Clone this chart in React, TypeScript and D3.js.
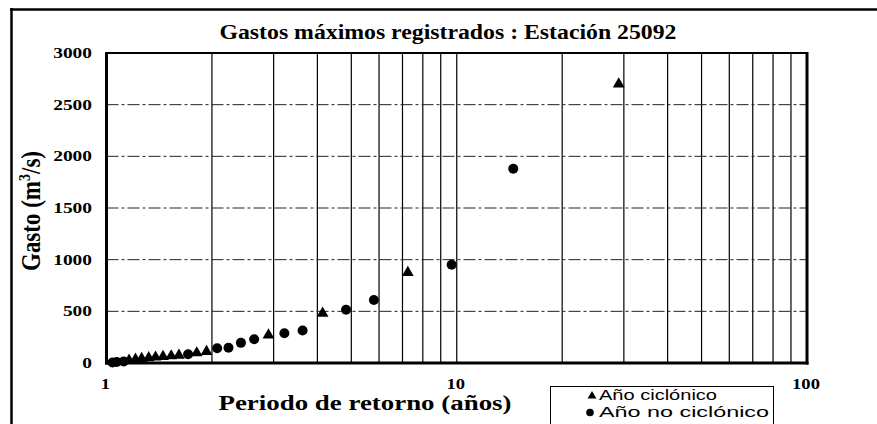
import { useEffect, useRef } from 'react'
import * as d3 from 'd3'

const title = 'Gastos máximos registrados : Estación 25092'
const xTitle = 'Periodo de retorno (años)'
const yTicks = [0, 500, 1000, 1500, 2000, 2500, 3000]
const xTicks = [1, 10, 100]
const legendNames = ['Año ciclónico', 'Año no ciclónico']

// periodo de retorno (años) y gasto (m3/s)
const ciclonicoT = [29, 7.25, 4.14, 2.9, 1.93, 1.81, 1.61, 1.53, 1.45, 1.38, 1.32, 1.26, 1.21, 1.16]
const ciclonicoQ = [2700, 875, 480, 270, 110, 97, 75, 68, 62, 56, 50, 42, 35, 25]
const noCiclonicoT = [14.5, 9.67, 5.8, 4.83, 3.63, 3.22, 2.64, 2.42, 2.23, 2.07, 1.71, 1.12, 1.07, 1.04]
const noCiclonicoQ = [1880, 950, 610, 515, 315, 288, 230, 195, 148, 142, 85, 15, 10, 5]

const W = 877
const H = 424
const SERIF = '"Liberation Serif", "Times New Roman", serif'
const SANS = '"Liberation Sans", Arial, sans-serif'

export default function App() {
  const ref = useRef<SVGSVGElement>(null)

  useEffect(() => {
    const svg = d3.select(ref.current)
    svg.selectAll('*').remove()

    const x = d3.scaleLog().domain([1, 100]).range([106.5, 807])
    const y = d3.scaleLinear().domain([0, 3000]).range([363, 53])

    // scanned text is wider than normal, so stretch it to the measured widths
    const txt = (g: any, t: string, px: number, py: number, size: number, len: number, anchor = 'middle', font = SERIF, weight = 'bold') =>
      g.append('text')
        .attr('x', px).attr('y', py)
        .attr('text-anchor', anchor)
        .attr('font-family', font)
        .attr('font-weight', weight)
        .attr('font-size', size)
        .attr('textLength', len)
        .attr('lengthAdjust', 'spacingAndGlyphs')
        .attr('fill', '#000')
        .text(t)

    svg.append('rect').attr('width', W).attr('height', H).attr('fill', '#fff')

    // outer chart frame (only top and left survive in the scan)
    svg.append('line').attr('x1', 10).attr('x2', W).attr('y1', 9.5).attr('y2', 9.5).attr('stroke', '#000').attr('stroke-width', 2.5)
    svg.append('line').attr('x1', 11.5).attr('x2', 11.5).attr('y1', 8).attr('y2', H).attr('stroke', '#000').attr('stroke-width', 2.5)

    txt(svg, title, 448, 39, 20, 457)

    const grid = svg.append('g')
    grid.selectAll('line.v')
      .data(x.ticks().filter((d) => d > 1 && d < 100))
      .enter().append('line')
      .attr('x1', (d) => x(d)).attr('x2', (d) => x(d))
      .attr('y1', y(3000)).attr('y2', y(0))
      .attr('stroke', '#000').attr('stroke-width', 1.2)
    grid.selectAll('line.h')
      .data(yTicks.filter((d) => d > 0 && d < 3000))
      .enter().append('line')
      .attr('x1', x(1)).attr('x2', x(100))
      .attr('y1', (d) => y(d)).attr('y2', (d) => y(d))
      .attr('stroke', '#222').attr('stroke-width', 1)
      .attr('stroke-dasharray', '12,3,3,3')

    // plot frame
    const f = svg.append('g').attr('stroke', '#000').attr('fill', 'none')
    f.append('line').attr('x1', x(1)).attr('x2', x(100)).attr('y1', y(3000)).attr('y2', y(3000)).attr('stroke-width', 2)
    f.append('line').attr('x1', x(1)).attr('x2', x(1)).attr('y1', y(3000) - 1).attr('y2', y(0) + 1.5).attr('stroke-width', 3)
    f.append('line').attr('x1', x(100)).attr('x2', x(100)).attr('y1', y(3000) - 1).attr('y2', y(0) + 1.5).attr('stroke-width', 3)
    f.append('line').attr('x1', x(1) - 1.5).attr('x2', x(100) + 1.5).attr('y1', y(0)).attr('y2', y(0)).attr('stroke-width', 3)

    yTicks.forEach((d) => txt(svg, String(d), 92, y(d) + 5, 15, String(d).length * 9.7, 'end'))
    xTicks.forEach((d) => txt(svg, String(d), x(d) - 1, 389, 14, String(d).length * 9.3))

    txt(svg, xTitle, 365, 410, 20, 293)

    const yt = svg.append('text')
      .attr('transform', 'translate(40,211) scale(1.15,1) rotate(-90)')
      .attr('text-anchor', 'middle')
      .attr('font-family', SERIF)
      .attr('font-weight', 'bold')
      .attr('font-size', 23)
    yt.append('tspan').text('Gasto (m')
    yt.append('tspan').attr('font-size', 14).attr('dy', -9).text('3')
    yt.append('tspan').attr('dy', 9).text('/s)')

    const tri = d3.symbol().type(d3.symbolTriangle).size(60)
    const marks = svg.append('g').attr('fill', '#000')
    marks.selectAll('path')
      .data(d3.zip(ciclonicoT, ciclonicoQ))
      .enter().append('path')
      .attr('d', tri)
      .attr('transform', (d) => `translate(${x(d[0])},${y(d[1])})`)
    marks.selectAll('circle')
      .data(d3.zip(noCiclonicoT, noCiclonicoQ))
      .enter().append('circle')
      .attr('cx', (d) => x(d[0])).attr('cy', (d) => y(d[1]))
      .attr('r', 5)

    // legend
    const lg = svg.append('g')
    lg.append('rect').attr('x', 550.5).attr('y', 386.5).attr('width', 223).attr('height', 60)
      .attr('fill', '#fff').attr('stroke', '#000').attr('stroke-width', 1)
    lg.append('path').attr('d', d3.symbol().type(d3.symbolTriangle).size(34)).attr('transform', 'translate(592,396)')
    lg.append('circle').attr('cx', 590).attr('cy', 412.5).attr('r', 3.8)
    txt(lg, legendNames[0], 599, 400, 15, 118, 'start', SANS, 'normal')
    txt(lg, legendNames[1], 599, 417, 15, 170, 'start', SANS, 'normal')
  }, [])

  return (
    <svg ref={ref} width={W} height={H} style={{ position: 'absolute', left: 0, top: 0, display: 'block' }} />
  )
}
